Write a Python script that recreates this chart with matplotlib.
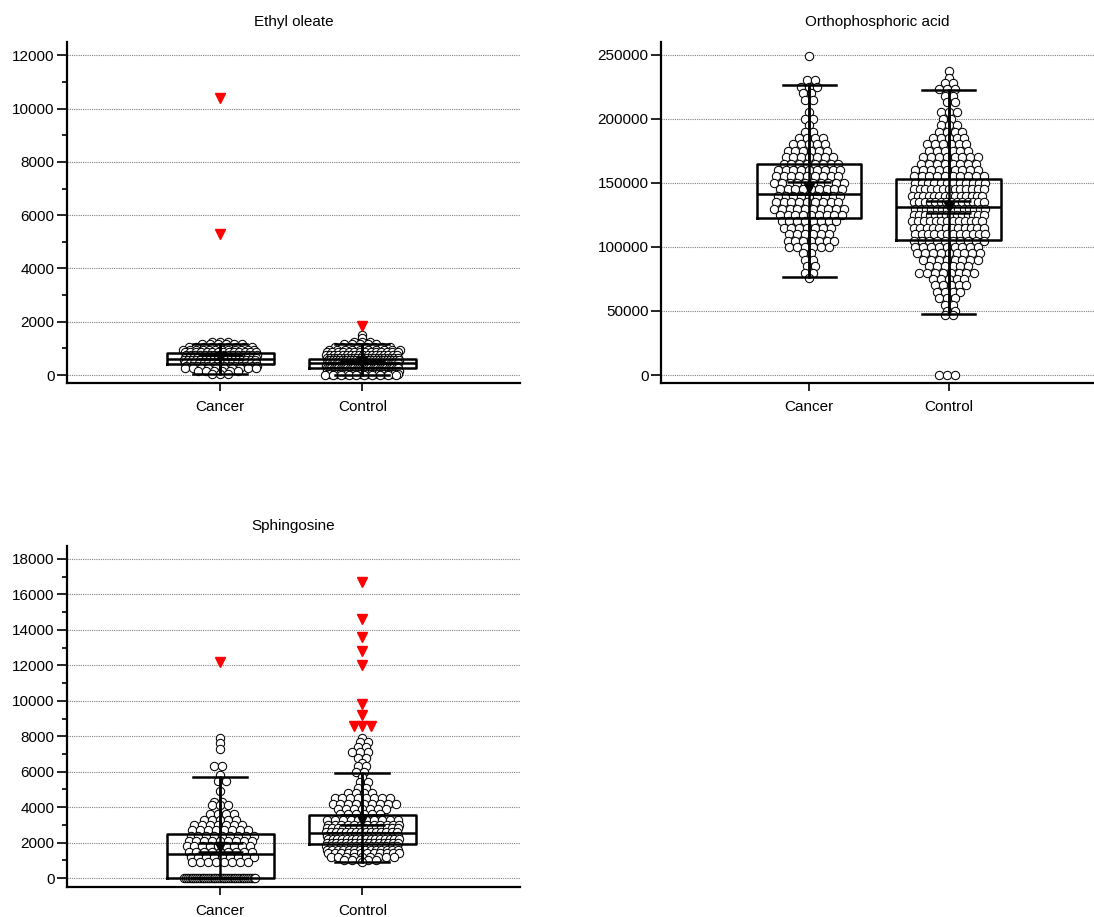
import numpy as np
import matplotlib.pyplot as plt
from matplotlib.ticker import MultipleLocator

plt.rcParams['font.family'] = ['Liberation Sans', 'DejaVu Sans']
plt.rcParams['font.size'] = 11

groups = ['Cancer', 'Control']

# ---- Ethyl oleate ----
ethyl_cancer_levels = [1250, 1150, 1050, 950, 850, 750, 650, 550, 450, 350, 250, 150, 50]
ethyl_cancer_counts = [3, 6, 9, 12, 14, 16, 18, 18, 16, 14, 10, 6, 3]
ethyl_control_levels = [1500, 1400, 1250, 1150, 1050, 950, 850, 750, 650, 550, 450, 350, 250, 150, 50, 0]
ethyl_control_counts = [1, 1, 3, 5, 8, 10, 14, 18, 22, 26, 30, 32, 32, 28, 22, 10]
ethyl_far = [[10400, 5300], [1850]]
# q1, median, q3, whisker low, whisker high, mean, ci
ethyl_box = [[400, 600, 810, 40, 1170, 680, 60],
             [275, 440, 620, 0, 1150, 490, 45]]

# ---- Orthophosphoric acid ----
ortho_cancer_levels = [249000, 230000, 225000, 220000, 215000, 205000, 200000, 195000,
                       190000, 185000, 180000, 175000, 170000, 165000, 160000, 155000,
                       150000, 145000, 140000, 135000, 130000, 125000, 120000, 115000,
                       110000, 105000, 100000, 95000, 90000, 85000, 80000, 76000]
ortho_cancer_counts = [1, 2, 3, 2, 2, 1, 2, 1, 2, 4, 5, 6, 7, 8, 9, 9,
                       10, 9, 9, 9, 10, 9, 8, 7, 6, 7, 6, 2, 2, 2, 2, 1]
ortho_control_levels = [237000, 232000, 228000, 223000, 218000, 213000, 205000, 200000,
                        195000, 190000, 185000, 180000, 175000, 170000, 165000, 160000,
                        155000, 150000, 145000, 140000, 135000, 130000, 125000, 120000,
                        115000, 110000, 105000, 100000, 95000, 90000, 85000, 80000,
                        75000, 70000, 65000, 60000, 55000, 50000, 47000, 0]
ortho_control_counts = [1, 1, 2, 3, 2, 2, 3, 2, 3, 4, 5, 6, 6, 8, 8, 9,
                        10, 12, 13, 14, 14, 14, 14, 13, 12, 12, 10, 9, 9, 8, 6, 8,
                        5, 5, 4, 3, 2, 2, 2, 3]
ortho_far = [[], []]
ortho_box = [[122400, 141400, 164800, 76300, 226600, 145800, 4800],
             [105500, 131500, 153400, 47700, 222700, 131000, 4500]]

# ---- Sphingosine ----
sph_cancer_levels = [7900, 7600, 7300, 6300, 5800, 5500, 4900, 4300, 4100, 3600,
                     3300, 3000, 2700, 2400, 2100, 1800, 1500, 1200, 900, 0]
sph_cancer_counts = [1, 1, 1, 2, 1, 2, 1, 2, 3, 4, 5, 7, 8, 9, 9, 9, 9, 9, 8, 40]
sph_control_levels = [7900, 7700, 7400, 7100, 6800, 6500, 6300, 6000, 5700, 5400,
                      5100, 4800, 4500, 4200, 3900, 3600, 3300, 3000, 2800, 2600,
                      2400, 2200, 2000, 1800, 1600, 1400, 1200, 1000, 900]
sph_control_counts = [1, 2, 2, 3, 2, 1, 2, 2, 1, 2, 2, 4, 8, 9, 7, 6, 10, 12, 14, 15,
                      16, 16, 16, 15, 14, 12, 9, 5, 1]
sph_far = [[12200], [16700, 14600, 13600, 12800, 12000, 9800, 9200, 8600, 8600, 8600]]
sph_box = [[0, 1340, 2480, 0, 5700, 1730, 270],
           [1920, 2560, 3540, 900, 5940, 3290, 270]]


def spread(pos, levels, counts, dx, maxw, stagger=False):
    xs, ys = [], []
    for k, (lv, n) in enumerate(zip(levels, counts)):
        step = dx if n < 2 else min(dx, maxw / (n - 1))
        off = (np.arange(n) - (n - 1) / 2) * step
        if stagger and n > 1 and k % 2:
            off = off + (step / 4 if k % 4 == 1 else -step / 4)
        xs.extend(pos + off)
        ys.extend([lv] * n)
    return xs, ys


def panel(ax, title, data, far, box, ylim, major, minor, xlim):
    dx = 0.056
    for i, (lv, ct) in enumerate(data):
        pos = i + 1
        xs, ys = spread(pos, lv, ct, dx, 0.5, stagger=True)
        ax.scatter(xs, ys, s=36, facecolor='white', edgecolor='black',
                   linewidth=0.75, zorder=2)
        vals, cnts = np.unique(far[i], return_counts=True)
        fx, fy = spread(pos, vals, cnts, 0.06, 0.5)
        ax.plot(fx, fy, 'v', color='red', ms=7, zorder=4, linestyle='none')
    stats = []
    for b in box:
        stats.append(dict(q1=b[0], med=b[1], q3=b[2], whislo=b[3], whishi=b[4], fliers=[]))
    lw = 1.8
    ax.bxp(stats, positions=[1, 2], widths=0.75, capwidths=0.38, showfliers=False,
           boxprops=dict(linewidth=lw, color='black'),
           medianprops=dict(linewidth=lw, color='black'),
           whiskerprops=dict(linewidth=lw, color='black'),
           capprops=dict(linewidth=lw, color='black'),
           manage_ticks=False, zorder=3)
    for i, b in enumerate(box):
        pos = i + 1
        ax.vlines(pos, b[3], b[4], color='black', lw=lw, zorder=3)
        ax.hlines([b[5] - b[6], b[5] + b[6]], pos - 0.16, pos + 0.16, color='black',
                  lw=lw, zorder=4)
        ax.plot(pos, b[5], 'v', color='black', ms=7, zorder=5)

    ax.set_xlim(*xlim)
    ax.set_ylim(*ylim)
    ax.set_xticks([1, 2])
    ax.set_xticklabels(groups)
    ax.yaxis.set_major_locator(MultipleLocator(major))
    if minor:
        ax.yaxis.set_minor_locator(MultipleLocator(minor))
    ax.yaxis.grid(True, which='major', linestyle=(0, (1, 1)), color='#808080', lw=0.8)
    ax.set_axisbelow(True)
    for s in ['top', 'right']:
        ax.spines[s].set_visible(False)
    for s in ['left', 'bottom']:
        ax.spines[s].set_linewidth(1.6)
    ax.tick_params(axis='y', which='major', length=7, width=1.2, pad=2)
    ax.tick_params(axis='y', which='minor', length=3.5, width=1.2)
    ax.tick_params(axis='x', which='major', length=6, width=1.2, pad=6)
    ax.set_title(title, fontsize=11, pad=11.5)


fig = plt.figure(figsize=(10.94, 9.17), dpi=100)
ax1 = fig.add_axes([0.0612, 0.5823, 0.4141, 0.3719])
ax2 = fig.add_axes([0.6042, 0.5823, 0.3958, 0.3719])
ax3 = fig.add_axes([0.0612, 0.0327, 0.4141, 0.3719])

panel(ax1, 'Ethyl oleate',
      [(ethyl_cancer_levels, ethyl_cancer_counts), (ethyl_control_levels, ethyl_control_counts)],
      ethyl_far, ethyl_box, (-300, 12500), 2000, 1000, (-0.08, 3.11))
panel(ax2, 'Orthophosphoric acid',
      [(ortho_cancer_levels, ortho_cancer_counts), (ortho_control_levels, ortho_control_counts)],
      ortho_far, ortho_box, (-6250, 260000), 50000, None, (-0.06, 3.04))
panel(ax3, 'Sphingosine',
      [(sph_cancer_levels, sph_cancer_counts), (sph_control_levels, sph_control_counts)],
      sph_far, sph_box, (-500, 18730), 2000, 1000, (-0.08, 3.11))

fig.savefig('out.png', dpi=100)
